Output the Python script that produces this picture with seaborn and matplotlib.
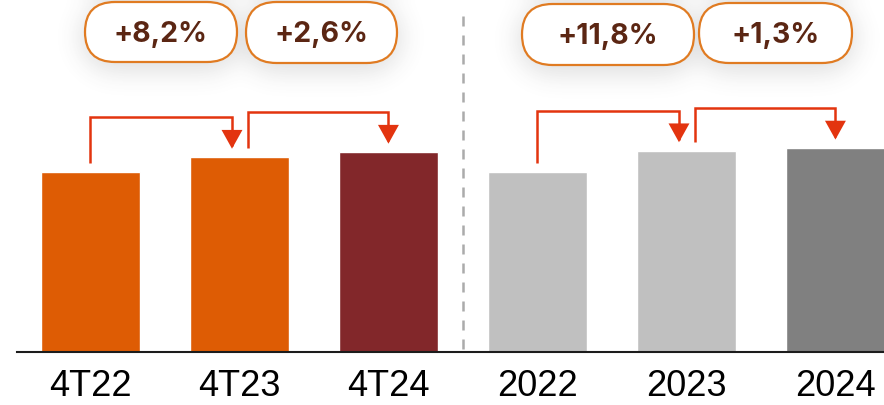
import numpy as np
import pandas as pd
import matplotlib
matplotlib.use("Agg")
import matplotlib.pyplot as plt
import seaborn as sns
from matplotlib.patches import FancyArrowPatch, FancyBboxPatch
from matplotlib.path import Path

# Data: index of each period (first period of each group = 100)
periods = ["4T22", "4T23", "4T24", "2022", "2023", "2024"]
index_values = [100.0, 108.2, 111.0, 100.0, 111.8, 113.3]
bar_colors = ["#DE5C04", "#DE5C04", "#82272A", "#C0C0C0", "#C0C0C0", "#808080"]

# Growth badges between consecutive periods
growth_labels = ["+8,2%", "+2,6%", "+11,8%", "+1,3%"]
growth_pairs = [(0, 1), (1, 2), (3, 4), (4, 5)]

# Badge boxes in figure pixels: (x0, y0, x1, y1)
badge_boxes = [(85, 2, 237, 62), (246, 2, 397, 63), (522, 4, 694, 65), (699, 3, 852, 63)]

W, H = 884, 405
PX_PER_UNIT = 1.8
ARROW_COLOR = "#E3340F"
BADGE_EDGE = "#E07B22"
BADGE_TEXT = "#5B2613"

sns.set_theme(style="white")
plt.rcParams["font.family"] = ["Liberation Sans", "DejaVu Sans"]

fig = plt.figure(figsize=(W / 100, H / 100), dpi=100)
fig.patch.set_facecolor("white")

base_px = 352
ax = fig.add_axes([17 / W, (H - base_px) / H, (W - 17) / W, base_px / H])

df = pd.DataFrame({"period": periods, "value": index_values})
sns.barplot(
    data=df, x="period", y="value", hue="period",
    palette=dict(zip(periods, bar_colors)), width=0.664,
    saturation=1, legend=False, ax=ax,
)

ax.set_xlim(-0.493, 5.326)
ax.set_ylim(0, base_px / PX_PER_UNIT)
ax.set_xlabel("")
ax.set_ylabel("")
ax.set_yticks([])
for side in ["left", "right", "top"]:
    ax.spines[side].set_visible(False)
ax.spines["bottom"].set_color("#1c1c1c")
ax.spines["bottom"].set_linewidth(1.5)
ax.tick_params(axis="x", length=0, pad=12.5, labelsize=26, colors="black")
ax.set_facecolor("white")

# Dashed separator between quarterly and annual groups
ax.plot([2.5, 2.5], [1.5, (base_px - 11) / PX_PER_UNIT], color="#ababab",
        lw=1.8, dashes=(4, 3.6), zorder=0)

# Elbow arrows between consecutive bars
for k, (a, b) in enumerate(growth_pairs):
    first = k % 2 == 0
    xs = a + (0.0 if first else 0.055)
    xe = b - (0.05 if first else 0.0)
    ys = index_values[a] + 9 / PX_PER_UNIT
    ye = index_values[b] + 8.5 / PX_PER_UNIT
    yh = max(index_values[a], index_values[b]) + 40 / PX_PER_UNIT
    path = Path([(xs, ys), (xs, yh), (xe, yh), (xe, ye)],
                [Path.MOVETO, Path.LINETO, Path.LINETO, Path.LINETO])
    arrow = FancyArrowPatch(path=path, arrowstyle="-|>,head_length=10.8,head_width=6",
                            color=ARROW_COLOR, lw=1.8, joinstyle="miter",
                            capstyle="butt", zorder=4)
    ax.add_patch(arrow)

# Overlay in pixel coordinates for the badges
ov = fig.add_axes([0, 0, 1, 1], zorder=3)
ov.patch.set_alpha(0)

# Soft drop shadow behind the badges
yy, xx = np.mgrid[0:H, 0:W] + 0.5
mask = np.zeros((H, W))
for (x0, y0, x1, y1) in badge_boxes:
    r = (y1 - y0) / 2
    cy = (y0 + y1) / 2 + 5
    px = np.clip(xx, x0 + r, x1 - r)
    d = np.hypot(xx - px, yy - cy)
    mask = np.maximum(mask, (d <= r + 5).astype(float))
sigma = 12
rad = 3 * sigma
kern = np.exp(-0.5 * (np.arange(-rad, rad + 1) / sigma) ** 2)
kern /= kern.sum()
padded = np.pad(mask, rad, mode="reflect")
blur = np.apply_along_axis(lambda m: np.convolve(m, kern, mode="same"), 1, padded)
blur = np.apply_along_axis(lambda m: np.convolve(m, kern, mode="same"), 0, blur)
blur = blur[rad:-rad, rad:-rad]
shadow = np.zeros((H, W, 4))
shadow[..., :3] = 0.3
shadow[..., 3] = blur * 0.17
ov.imshow(shadow, extent=(0, W, H, 0), interpolation="bilinear", aspect="auto", zorder=1)

for (x0, y0, x1, y1), label in zip(badge_boxes, growth_labels):
    h = y1 - y0
    pill = FancyBboxPatch((x0, y0), x1 - x0, h,
                          boxstyle=f"round,pad=0,rounding_size={h / 2}",
                          fc="white", ec=BADGE_EDGE, lw=1.6, zorder=2)
    ov.add_patch(pill)
    ov.text((x0 + x1) / 2, (y0 + y1) / 2 + 10, label, ha="center", va="baseline",
            fontsize=20.5, fontweight="bold", color=BADGE_TEXT,
            family=["Inter", "DejaVu Sans"], zorder=3)

ov.set_xlim(0, W)
ov.set_ylim(H, 0)
ov.axis("off")

fig.savefig("out.png", dpi=100)
